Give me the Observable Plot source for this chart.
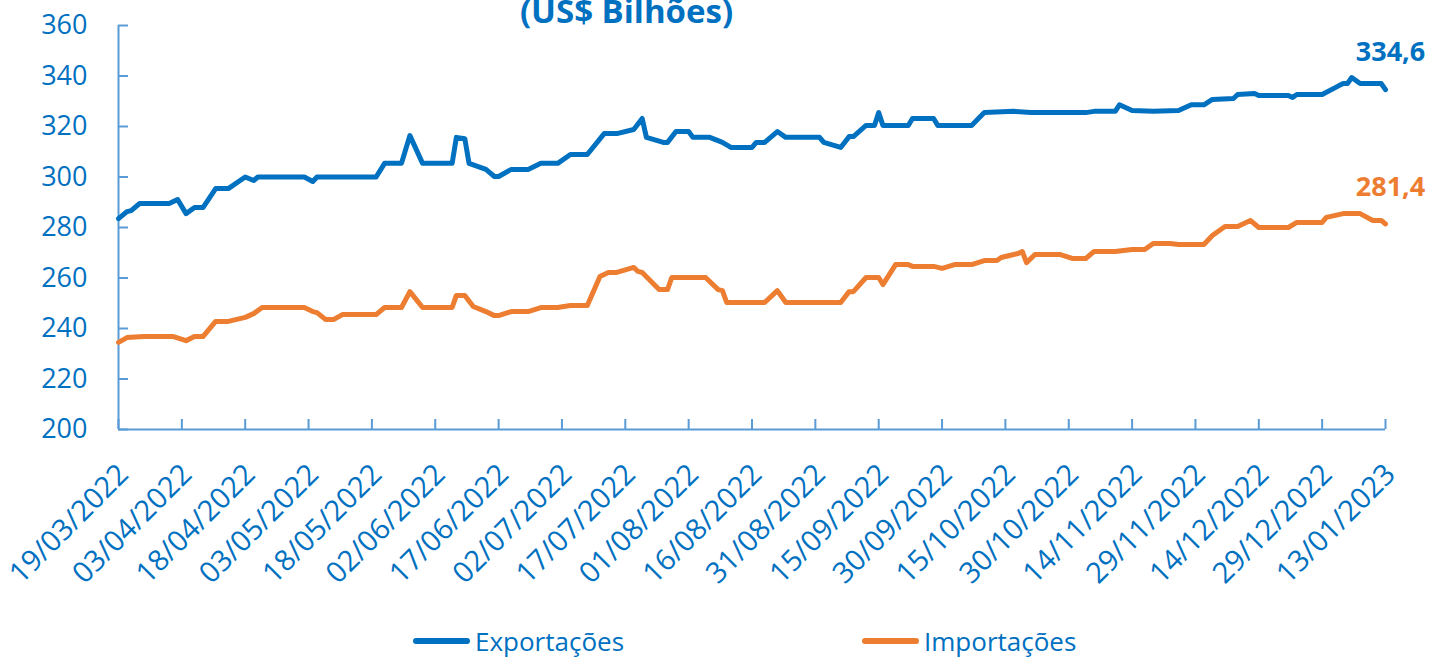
<!DOCTYPE html>
<html><head><meta charset="utf-8">
<script src="https://cdn.jsdelivr.net/npm/d3@7"></script>
<script src="https://cdn.jsdelivr.net/npm/@observablehq/plot@0.6"></script>
<style>
body{margin:0;background:#fff;font-family:"Open Sans",sans-serif;overflow:hidden;}
#legend{position:relative;height:42px;width:1443px;}
.item{position:absolute;top:6px;display:flex;align-items:center;height:40px;color:#0070C0;font-size:26px;}
.sw{width:57px;height:6px;border-radius:3px;margin-right:5px;}
</style></head><body>
<div id="chart"></div>
<div id="legend"></div>
<script>
const title = "(US$ Bilhões)";
const seriesNames = ["Exportações", "Importações"];
const seriesColors = ["#0070C0", "#ED7D31"];
const yTicks = [200, 220, 240, 260, 280, 300, 320, 340, 360];
const xTickLabels = ["19/03/2022","03/04/2022","18/04/2022","03/05/2022","18/05/2022","02/06/2022","17/06/2022","02/07/2022","17/07/2022","01/08/2022","16/08/2022","31/08/2022","15/09/2022","30/09/2022","15/10/2022","30/10/2022","14/11/2022","29/11/2022","14/12/2022","29/12/2022","13/01/2023"];

const expDates = ["2022-03-19","2022-03-21","2022-03-22","2022-03-24","2022-03-31","2022-04-02","2022-04-04","2022-04-06","2022-04-08","2022-04-11","2022-04-14","2022-04-18","2022-04-20","2022-04-21","2022-05-02","2022-05-04","2022-05-05","2022-05-19","2022-05-21","2022-05-25","2022-05-27","2022-05-30","2022-06-06","2022-06-07","2022-06-09","2022-06-10","2022-06-14","2022-06-16","2022-06-17","2022-06-20","2022-06-24","2022-06-27","2022-07-01","2022-07-04","2022-07-08","2022-07-12","2022-07-15","2022-07-19","2022-07-21","2022-07-22","2022-07-26","2022-07-27","2022-07-29","2022-08-01","2022-08-02","2022-08-06","2022-08-09","2022-08-11","2022-08-16","2022-08-17","2022-08-19","2022-08-22","2022-08-24","2022-09-01","2022-09-02","2022-09-06","2022-09-08","2022-09-09","2022-09-12","2022-09-14","2022-09-15","2022-09-16","2022-09-22","2022-09-23","2022-09-28","2022-09-29","2022-10-07","2022-10-10","2022-10-17","2022-10-21","2022-11-03","2022-11-05","2022-11-10","2022-11-11","2022-11-14","2022-11-19","2022-11-25","2022-11-28","2022-12-01","2022-12-03","2022-12-08","2022-12-09","2022-12-13","2022-12-14","2022-12-21","2022-12-22","2022-12-23","2022-12-29","2023-01-02","2023-01-03","2023-01-04","2023-01-05","2023-01-07","2023-01-12","2023-01-13"];
const expValues = [283.5,286.3,286.7,289.5,289.5,291.1,285.5,287.9,287.9,295.4,295.4,300.0,298.6,300.0,300.0,298.2,300.0,300.0,305.4,305.4,316.4,305.4,305.4,315.7,315.2,305.4,303.0,300.2,300.2,303.0,303.0,305.4,305.4,308.9,308.9,317.2,317.2,318.8,323.2,315.7,313.7,313.7,318.0,318.0,315.7,315.7,313.7,311.7,311.7,313.7,313.7,318.0,315.7,315.7,313.7,311.7,316.0,316.0,320.4,320.4,325.5,320.4,320.4,323.2,323.2,320.4,320.4,325.5,326.0,325.5,325.5,326.0,326.0,328.6,326.3,326.0,326.3,328.6,328.6,330.7,331.1,332.7,333.1,332.3,332.3,331.5,332.7,332.7,336.2,337.0,337.0,339.4,337.0,337.0,334.6];

const impDates = ["2022-03-19","2022-03-21","2022-03-25","2022-04-01","2022-04-04","2022-04-06","2022-04-08","2022-04-11","2022-04-14","2022-04-18","2022-04-20","2022-04-22","2022-05-02","2022-05-04","2022-05-05","2022-05-07","2022-05-09","2022-05-11","2022-05-19","2022-05-21","2022-05-25","2022-05-27","2022-05-30","2022-06-06","2022-06-07","2022-06-09","2022-06-11","2022-06-14","2022-06-16","2022-06-17","2022-06-20","2022-06-24","2022-06-27","2022-07-01","2022-07-04","2022-07-08","2022-07-11","2022-07-13","2022-07-15","2022-07-19","2022-07-20","2022-07-21","2022-07-25","2022-07-27","2022-07-28","2022-08-05","2022-08-08","2022-08-09","2022-08-10","2022-08-19","2022-08-22","2022-08-24","2022-09-06","2022-09-08","2022-09-09","2022-09-12","2022-09-15","2022-09-16","2022-09-19","2022-09-22","2022-09-23","2022-09-28","2022-09-30","2022-10-03","2022-10-07","2022-10-10","2022-10-13","2022-10-14","2022-10-17","2022-10-18","2022-10-19","2022-10-20","2022-10-22","2022-10-28","2022-10-31","2022-11-03","2022-11-05","2022-11-10","2022-11-14","2022-11-17","2022-11-19","2022-11-23","2022-11-25","2022-12-01","2022-12-03","2022-12-06","2022-12-09","2022-12-12","2022-12-14","2022-12-21","2022-12-23","2022-12-29","2022-12-30","2023-01-03","2023-01-07","2023-01-10","2023-01-12","2023-01-13"];
const impValues = [234.5,236.4,236.8,236.8,235.2,236.8,236.8,242.8,242.8,244.4,245.9,248.3,248.3,246.7,246.3,243.6,243.6,245.5,245.5,248.3,248.3,254.6,248.3,248.3,253.1,253.1,248.7,246.7,245.1,245.1,246.7,246.7,248.3,248.3,249.1,249.1,260.6,262.2,262.2,264.2,262.6,262.2,255.4,255.4,260.2,260.2,255.4,255.0,250.3,250.3,255.0,250.3,250.3,254.6,254.6,260.2,260.2,257.4,265.3,265.3,264.6,264.6,263.8,265.3,265.3,266.9,266.9,268.1,269.3,269.7,270.5,266.1,269.3,269.3,267.7,267.7,270.5,270.5,271.3,271.3,273.7,273.7,273.3,273.3,276.8,280.4,280.4,282.8,280.0,280.0,282.0,282.0,284.0,285.5,285.5,282.8,282.8,281.4];

const parseISO = d3.utcParse("%Y-%m-%d");
const parseBR = d3.utcParse("%d/%m/%Y");
const fmtBR = d3.utcFormat("%d/%m/%Y");
const xTicks = xTickLabels.map(parseBR);

const rows = [
  ...expDates.map((d, i) => ({date: parseISO(d), value: expValues[i], series: seriesNames[0]})),
  ...impDates.map((d, i) => ({date: parseISO(d), value: impValues[i], series: seriesNames[1]}))
];
const lastRows = seriesNames.map(s => rows.filter(r => r.series === s).at(-1));
const numFmt = v => d3.format(".1f")(v).replace(".", ",");

const W = 1443, H = 615, mL = 118, mR = 58, mT = 25, mB = 186;
const axisColor = "#5B9BD5";
const textColor = "#0070C0";

const chart = Plot.plot({
  width: W, height: H,
  marginLeft: mL, marginRight: mR, marginTop: mT, marginBottom: mB,
  style: {fontFamily: "'Open Sans', sans-serif", background: "#fff", overflow: "hidden"},
  x: {type: "utc", domain: [xTicks[0], xTicks[xTicks.length - 1]]},
  y: {domain: [200, 360]},
  color: {domain: seriesNames, range: seriesColors},
  marks: [
    Plot.ruleY([200], {stroke: axisColor, strokeWidth: 2}),
    Plot.ruleX([xTicks[0]], {stroke: axisColor, strokeWidth: 2}),
    Plot.tickY(yTicks, {y: d => d, stroke: axisColor, strokeWidth: 2, insetRight: W - mL - mR - 10}),
    Plot.tickX(xTicks, {x: d => d, stroke: axisColor, strokeWidth: 2, insetTop: H - mT - mB - 10}),
    Plot.axisY({ticks: yTicks, tickSize: 0, tickPadding: 31, fontSize: 27, color: textColor, label: null}),
    Plot.axisX({ticks: xTicks, tickFormat: fmtBR, tickSize: 0, tickRotate: -45, tickPadding: 40, dx: 5, fontSize: 29, color: textColor, label: null}),
    Plot.line(rows, {x: "date", y: "value", z: "series", stroke: "series", strokeWidth: 5, strokeLinejoin: "round", strokeLinecap: "round"}),
    Plot.text(lastRows, {x: "date", y: "value", text: d => numFmt(d.value), fill: "series", dy: -37, dx: 5, fontSize: 27, fontWeight: "bold"}),
    Plot.text([title], {frameAnchor: "top-left", dx: 626 - mL, dy: -26, textAnchor: "middle", fontSize: 33, fontWeight: "bold", fill: textColor})
  ]
});
document.getElementById("chart").appendChild(chart);

const legend = document.getElementById("legend");
const legendX = [413, 862];
seriesNames.forEach((s, i) => {
  const item = document.createElement("div");
  item.className = "item";
  item.style.left = legendX[i] + "px";
  item.innerHTML = `<span class="sw" style="background:${seriesColors[i]}"></span><span>${s}</span>`;
  legend.appendChild(item);
});
</script>
</body></html>
